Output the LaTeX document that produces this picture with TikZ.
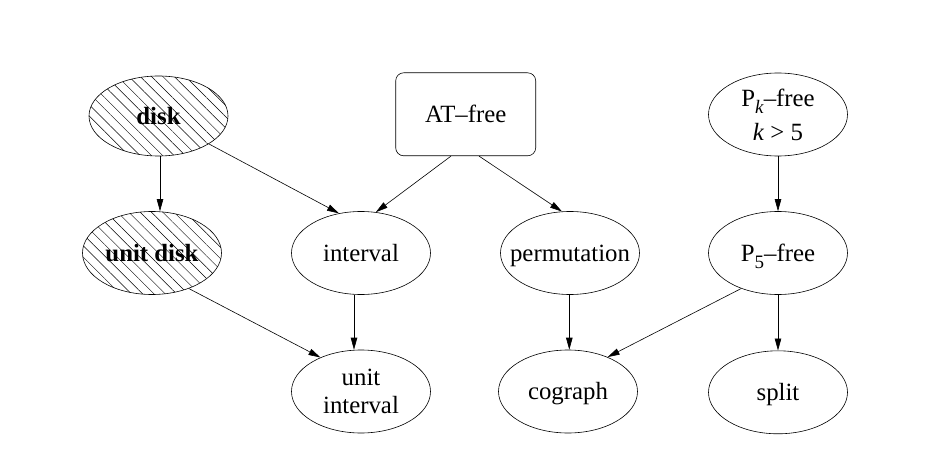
\documentclass[tikz,border=0pt]{standalone}
\usepackage{fontspec}
\setmainfont{Liberation Serif}
\usetikzlibrary{shapes.geometric,arrows.meta,patterns.meta}
\newcommand{\lowsub}[1]{\raisebox{-7.5pt}[0pt][0pt]{\fontsize{19}{19}\selectfont #1}}
\newcommand{\oneline}[1]{\makebox[0pt]{#1}}
\begin{document}
\begin{tikzpicture}[x=1pt,y=-1pt,
  every node/.style={font=\fontsize{24.8}{28}\selectfont},
  ell/.style={draw, ellipse, line width=0.6pt, minimum width=139pt, minimum height=83pt, inner sep=0pt, align=center},
  single/.style={text height=16.5pt, text depth=0pt},
  hatched/.style={ell, single, pattern={Lines[angle=-45,distance=8pt,line width=0.45pt]}},
  rbox/.style={draw, rectangle, rounded corners=8pt, line width=0.6pt, minimum width=140pt, minimum height=83pt, inner sep=0pt},
  conn/.style={draw, line width=0.6pt, -{Triangle[length=12pt,width=6.5pt]}}]
\useasboundingbox (0,0) rectangle (932,468);

\node[hatched, minimum height=80pt] (disk) at (158.5,116) {\oneline{\bfseries disk}};
\node[hatched] (udisk) at (152,253) {\oneline{\bfseries unit disk}};
\node[rbox, single] (atfree) at (465.7,114.3) {AT–free};
\node[ell] (pk) at (778,114.5) {P\lowsub{\textit{k}}–free\\[6pt]\textit{k} > 5};
\node[ell, single] (interval) at (361,253) {\oneline{interval}};
\node[ell, single] (perm) at (570,253) {\oneline{permutation}};
\node[ell, single] (p5) at (778,253) {\oneline{P\lowsub{5}–free}};
\node[ell] (uinterval) at (361,391.5) {unit\\interval};
\node[ell, single] (cograph) at (568,391.5) {\oneline{cograph}};
\node[ell, single] (split) at (778,392.3) {\oneline{split}};

\draw[conn] ([xshift=1.5pt]disk.south) -- ([xshift=8pt]udisk.north);
\draw[conn] (disk.-29.4) -- (interval.119.3);
\draw[conn] ([xshift=-14.7pt]atfree.south) -- (interval.70.3);
\draw[conn] ([xshift=13.3pt]atfree.south) -- (perm.101);
\draw[conn] (udisk.-44) -- (uinterval.140.6);
\draw[conn] ([xshift=-7pt]interval.south) -- ([xshift=-7pt]uinterval.north);
\draw[conn] ([xshift=-0.7pt]perm.south) -- ([xshift=1.3pt]cograph.north);
\draw[conn] (p5.224.2) -- (cograph.41.4);
\draw[conn] (pk.south) -- (p5.north);
\draw[conn] (p5.south) -- (split.north);
\end{tikzpicture}
\end{document}
